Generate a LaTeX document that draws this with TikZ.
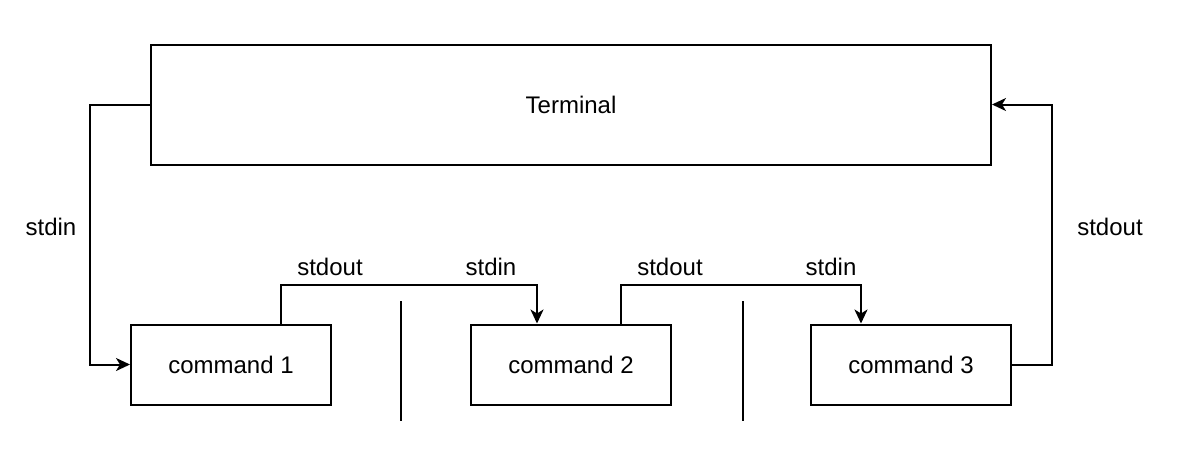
\documentclass[tikz,border=0pt]{standalone}
\usepackage{fontspec}
\setmainfont{Liberation Sans}
\usepackage{tikz}
\usetikzlibrary{arrows.meta}

\begin{document}
\begin{tikzpicture}[x=0.5pt, y=-0.5pt, line width=1pt,
        box/.style = {draw, line width=1pt, minimum height=40pt, minimum width=100pt, inner sep=0pt},
        lbl/.style = {inner sep=0pt},
        flow/.style = {-{Stealth[length=7pt, width=6.5pt, inset=2pt]}, line width=1pt}]
        \useasboundingbox (0, 0) rectangle (1190, 452);
        \fontsize{12}{14}\selectfont

        \node[box, minimum width=420pt, minimum height=60pt] (term) at (571, 104.5) {Terminal};
        \node[box] (cmd1) at (231, 364.5) {command 1};
        \node[box] (cmd2) at (571, 364.5) {command 2};
        \node[box] (cmd3) at (911, 364.5) {command 3};

        % the pipes
        \draw (401, 301) -- (401, 421);
        \draw (743, 301) -- (743, 421);

        \draw[flow] (term.west) -- ++(-60, 0) |- (cmd1.west);
        \draw[flow] ([xshift=25pt]cmd1.north) -- ++(0, -39) -| ([xshift=-17pt]cmd2.north);
        \draw[flow] ([xshift=25pt]cmd2.north) -- ++(0, -39) -| ([xshift=-25pt]cmd3.north);
        \draw[flow] (cmd3.east) -- ++(40, 0) |- (term.east);

        \node[lbl] (in0) at (51, 227) {stdin};
        \node[lbl] (out1) at (330, 267) {stdout};
        \node[lbl] (in2) at (491, 267) {stdin};
        \node[lbl] (out2) at (670, 267) {stdout};
        \node[lbl] (in3) at (831, 267) {stdin};
        \node[lbl] (out3) at (1110, 227) {stdout};
    \end{tikzpicture}
\end{document}
